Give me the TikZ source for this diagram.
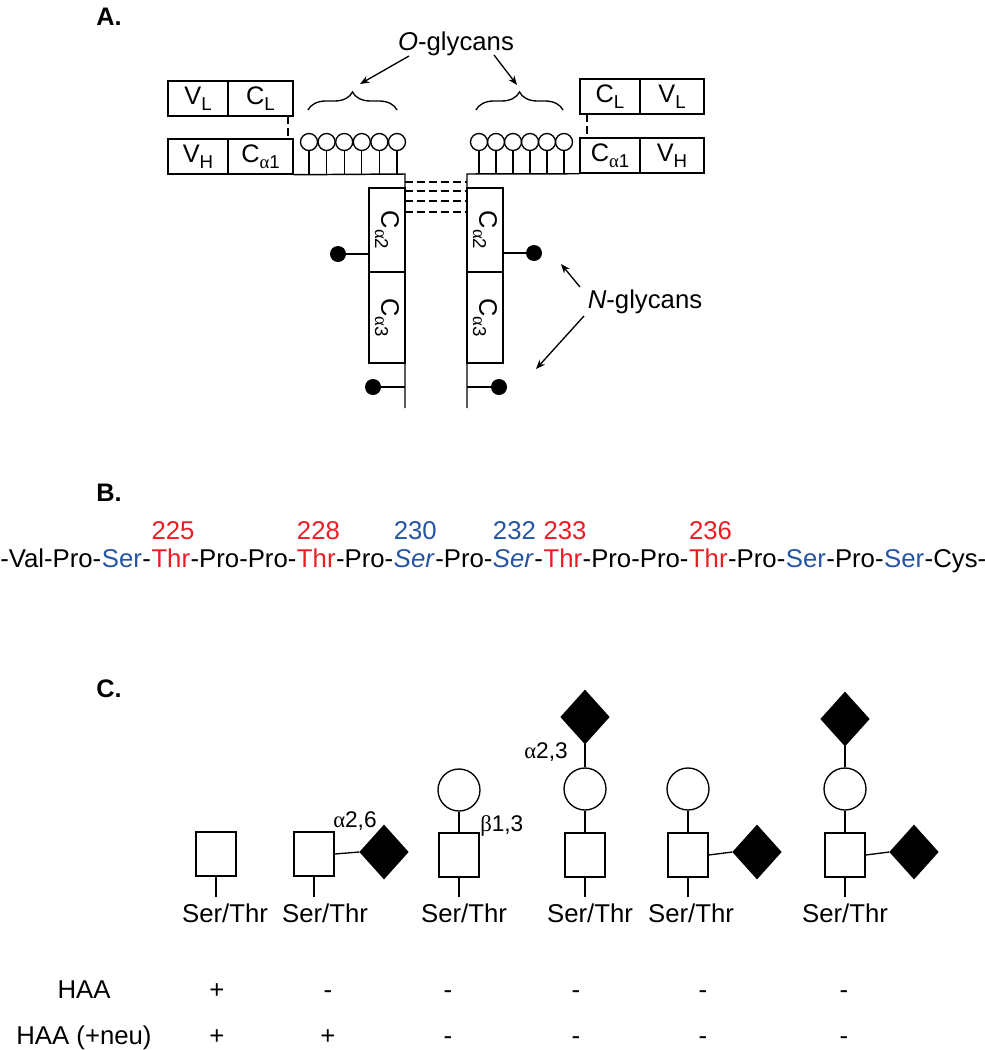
\documentclass[tikz,border=0pt]{standalone}
\usepackage{fontspec}
\setmainfont{Liberation Sans}
\newfontfamily\grk{Liberation Serif}
\usetikzlibrary{shapes.geometric,decorations.pathreplacing,arrows.meta}
\definecolor{seqred}{RGB}{236,28,36}
\definecolor{seqblue}{RGB}{38,84,164}
\newcommand{\dsub}[1]{\raisebox{-0.45ex}{\fontsize{14}{14}\selectfont #1}}
\begin{document}
\begin{tikzpicture}[x=0.75pt,y=-0.75pt,
  lbl/.style={inner sep=0pt, font=\fontsize{19.3}{23}\selectfont},
  seqp/.style={lbl, anchor=base west},
  dom/.style={draw, line width=1.1pt, inner sep=0pt, font=\fontsize{19}{22}\selectfont},
  lolli/.style={draw, circle, line width=1pt, minimum size=12.75pt, inner sep=0pt},
  ndot/.style={fill, circle, minimum size=12pt, inner sep=0pt},
  ln/.style={line width=1.1pt},
  dln/.style={line width=1.1pt, dash pattern=on 6pt off 3pt},
  garr/.style={line width=1pt, -{Stealth[length=7pt,width=5.5pt]}},
  gsq/.style={draw, line width=1pt, minimum width=30pt, minimum height=33pt, inner sep=0pt},
  gci/.style={draw, circle, line width=1pt, minimum size=31.5pt, inner sep=0pt},
  gdi/.style={draw, fill, diamond, line width=1pt, minimum width=36pt, minimum height=40pt, inner sep=0pt},
  gl/.style={line width=1pt},
  link/.style={inner sep=0pt, font=\fontsize{17}{20}\selectfont},
  panel/.style={inner sep=0pt, font=\bfseries\fontsize{19}{22}\selectfont, anchor=base west}
]
\useasboundingbox (0,0) rectangle (985,1050);

% panel labels
\node[panel] (pA) at (96,25) {A.};
\node[panel] (pB) at (96,501) {B.};
\node[panel] (pC) at (96,697) {C.};

% ---------- Panel A ----------
% left light/heavy chain domains
\node[dom, minimum width=45pt, minimum height=26.25pt] (vlL) at (198,98.5) {V\dsub{L}};
\node[dom, minimum width=48.75pt, minimum height=26.25pt] (clL) at (260.5,98.5) {C\dsub{L}};
\node[dom, minimum width=45pt, minimum height=26.25pt] (vhL) at (198,156.5) {V\dsub{H}};
\node[dom, minimum width=48.75pt, minimum height=26.25pt] (ca1L) at (260.5,156.5) {C\dsub{{\grk α}1}};
% right domains
\node[dom, minimum width=45pt, minimum height=26.25pt] (clR) at (610,96.5) {C\dsub{L}};
\node[dom, minimum width=48pt, minimum height=26.25pt] (vlR) at (672,96.5) {V\dsub{L}};
\node[dom, minimum width=45pt, minimum height=26.25pt] (ca1R) at (610,155.5) {C\dsub{{\grk α}1}};
\node[dom, minimum width=48pt, minimum height=26.25pt] (vhR) at (672,155.5) {V\dsub{H}};
% Ca2 / Ca3 domains
\node[dom, minimum width=27pt, minimum height=63pt] (ca2L) at (387,230) {\rotatebox{-90}{C\dsub{{\grk α}2}}};
\node[dom, minimum width=27pt, minimum height=68.25pt] (ca3L) at (387,317.5) {\rotatebox{-90}{C\dsub{{\grk α}3}}};
\node[dom, minimum width=27pt, minimum height=63pt] (ca2R) at (485,230) {\rotatebox{-90}{C\dsub{{\grk α}2}}};
\node[dom, minimum width=27pt, minimum height=68.25pt] (ca3R) at (485,317.5) {\rotatebox{-90}{C\dsub{{\grk α}3}}};

% backbones
\coordinate (bbL) at (405,174);
\coordinate (endL) at (405,408);
\coordinate (bbR) at (467,174);
\coordinate (endR) at (467,408);
\draw[ln] (ca1L.south east) -- (bbL) -- (endL);
\draw[ln] (ca1R.south west) -- (bbR) -- (endR);

% interchain disulfide bonds (dashed)
\foreach \yy in {182,191,201,212}{
  \draw[dln] (405,\yy) -- (467,\yy);
}
% light-heavy links
\draw[dln] (288,116) -- (288,139);
\draw[dln] (587,114) -- (587,138);

% O-glycan lollipops
\foreach \i/\xx in {1/309,2/326.6,3/344.2,4/361.8,5/379.4,6/397}{
  \node[lolli] (oL\i) at (\xx,142) {};
  \draw[gl] (oL\i.south) -- (\xx,174);
}
\foreach \i/\xx in {1/479,2/496,3/513,4/530,5/547,6/564}{
  \node[lolli] (oR\i) at (\xx,142) {};
  \draw[gl] (oR\i.south) -- (\xx,174);
}
% braces
\draw[line width=1pt, decorate, decoration={brace, amplitude=13.5pt}] (308,110) -- (397,110);
\draw[line width=1pt, decorate, decoration={brace, amplitude=13.5pt}] (476,110) -- (563,110);

% O-glycans label + arrows
\node[lbl, anchor=base] (og) at (456,50) {\textit{O}-glycans};
\coordinate (ogs1) at (409,56);
\coordinate (ogt1) at (360,84);
\coordinate (ogs2) at (494,55);
\coordinate (ogt2) at (517,85);
\draw[garr] (ogs1) -- (ogt1);
\draw[garr] (ogs2) -- (ogt2);

% N-glycans
\node[ndot] (nL1) at (338,254) {};
\draw[ln] (nL1.center) -- (ca2L.west |- nL1.center);
\node[ndot] (nL2) at (373,387) {};
\draw[ln] (nL2.center) -- (405,387);
\node[ndot] (nR1) at (534,253) {};
\draw[ln] (nR1.center) -- (ca2R.east |- nR1.center);
\node[ndot] (nR2) at (499,387) {};
\draw[ln] (nR2.center) -- (467,387);

\node[lbl, anchor=base] (ng) at (645,308) {\textit{N}-glycans};
\coordinate (ngs1) at (580,287);
\coordinate (ngt1) at (561,264);
\coordinate (ngs2) at (584,316);
\coordinate (ngt2) at (536,369);
\draw[garr] (ngs1) -- (ngt1);
\draw[garr] (ngs2) -- (ngt2);

% ---------- Panel B ----------
\node[seqp] (s1) at (0,567) {-Val-Pro-};
\node[seqp, text=seqblue] (s2) at (s1.base east) {Ser};
\node[seqp] (s3) at (s2.base east) {-};
\node[seqp, text=seqred] (s4) at (s3.base east) {Thr};
\node[seqp] (s5) at (s4.base east) {-Pro-Pro-};
\node[seqp, text=seqred] (s6) at (s5.base east) {Thr};
\node[seqp] (s7) at (s6.base east) {-Pro-};
\node[seqp, text=seqblue] (s8) at (s7.base east) {\textit{Ser}};
\node[seqp] (s9) at (s8.base east) {-Pro-};
\node[seqp, text=seqblue] (s10) at (s9.base east) {\textit{Ser}};
\node[seqp] (s11) at (s10.base east) {-};
\node[seqp, text=seqred] (s12) at (s11.base east) {Thr};
\node[seqp] (s13) at (s12.base east) {-Pro-Pro-};
\node[seqp, text=seqred] (s14) at (s13.base east) {Thr};
\node[seqp] (s15) at (s14.base east) {-Pro-};
\node[seqp, text=seqblue] (s16) at (s15.base east) {Ser};
\node[seqp] (s17) at (s16.base east) {-Pro-};
\node[seqp, text=seqblue] (s18) at (s17.base east) {Ser};
\node[seqp] (s19) at (s18.base east) {-Cys-};

\node[seqp, text=seqred] (n225) at ([yshift=21pt]s4.base west) {225};
\node[seqp, text=seqred] (n228) at ([yshift=21pt]s6.base west) {228};
\node[seqp, text=seqblue] (n230) at ([yshift=21pt]s8.base west) {230};
\node[seqp, text=seqblue] (n232) at ([yshift=21pt]s10.base west) {232};
\node[seqp, text=seqred] (n233) at ([yshift=21pt]s12.base west) {233};
\node[seqp, text=seqred] (n236) at ([yshift=21pt]s14.base west) {236};

% ---------- Panel C ----------
% structure 1
\node[gsq] (q1) at (216,854) {};
\coordinate (e1) at (216,897);
\draw[gl] (q1.south) -- (e1);
% structure 2
\node[gsq] (q2) at (314,854) {};
\coordinate (e2) at (314,897);
\draw[gl] (q2.south) -- (e2);
\node[gdi] (d2) at (384,852) {};
\draw[gl] (q2.east) -- (d2.west);
\node[link, anchor=base west] (l26) at (333,827) {{\grk α}2,6};
% structure 3
\node[gsq] (q3) at (459,855) {};
\coordinate (e3) at (459,897);
\draw[gl] (q3.south) -- (e3);
\node[gci] (c3) at (459,790) {};
\draw[gl] (c3.south) -- (q3.north);
\node[link, anchor=base west] (l13) at (480,831) {{\grk β}1,3};
% structure 4
\node[gsq] (q4) at (585,855) {};
\coordinate (e4) at (585,897);
\draw[gl] (q4.south) -- (e4);
\node[gci] (c4) at (585,789) {};
\draw[gl] (c4.south) -- (q4.north);
\node[gdi] (d4) at (585,717) {};
\draw[gl] (d4.south) -- (c4.north);
\node[link, anchor=base east] (l23) at (568,758) {{\grk α}2,3};
% structure 5
\node[gsq] (q5) at (688,855) {};
\coordinate (e5) at (688,897);
\draw[gl] (q5.south) -- (e5);
\node[gci] (c5) at (688,789) {};
\draw[gl] (c5.south) -- (q5.north);
\node[gdi] (d5) at (757,852) {};
\draw[gl] (q5.east) -- (d5.west);
% structure 6
\node[gsq] (q6) at (845,855) {};
\coordinate (e6) at (845,897);
\draw[gl] (q6.south) -- (e6);
\node[gci] (c6) at (845,789) {};
\draw[gl] (c6.south) -- (q6.north);
\node[gdi] (d6a) at (845,719) {};
\draw[gl] (d6a.south) -- (c6.north);
\node[gdi] (d6b) at (914,852) {};
\draw[gl] (q6.east) -- (d6b.west);

% Ser/Thr labels
\foreach \i/\xx in {1/225,2/325,3/464,4/590,5/691,6/845}{
  \node[lbl, anchor=base] (st\i) at (\xx,922) {Ser/Thr};
}

% HAA table
\node[lbl, anchor=base] (haa) at (84,998) {HAA};
\node[lbl, anchor=base] (haan) at (84,1044) {HAA (+neu)};
\foreach \i/\xx/\sa/\sb in {1/217/+/+,2/328/-/+,3/448/-/-,4/576/-/-,5/703/-/-,6/844/-/-}{
  \node[lbl, anchor=base] (ra\i) at (\xx,998) {\sa};
  \node[lbl, anchor=base] (rb\i) at (\xx,1044) {\sb};
}
\end{tikzpicture}
\end{document}
